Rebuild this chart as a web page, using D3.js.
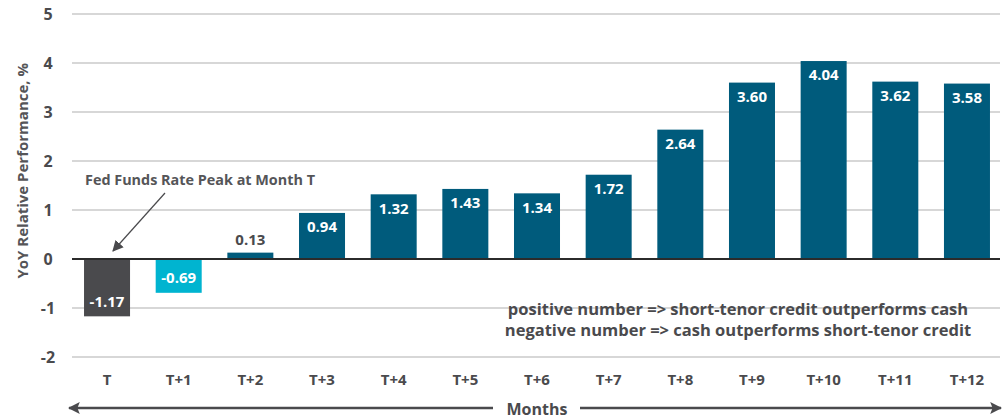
<!DOCTYPE html>
<html>
<head>
<meta charset="utf-8">
<script src="https://cdn.jsdelivr.net/npm/d3@7"></script>
<style>
  body { margin: 0; background: #fff; }
  svg text { font-family: "Open Sans", Roboto, sans-serif; font-weight: bold; }
</style>
</head>
<body>
<div id="chart"></div>
<script>
// chart data
var months = ["T", "T+1", "T+2", "T+3", "T+4", "T+5", "T+6", "T+7", "T+8", "T+9", "T+10", "T+11", "T+12"];
var values = [-1.17, -0.69, 0.13, 0.94, 1.32, 1.43, 1.34, 1.72, 2.64, 3.60, 4.04, 3.62, 3.58];
var yTicks = [-2, -1, 0, 1, 2, 3, 4, 5];
var noteLines = ["positive number => short-tenor credit outperforms cash",
                 "negative number => cash outperforms short-tenor credit"];
var annotation = "Fed Funds Rate Peak at Month T";

var width = 1006, height = 419;

var svg = d3.select("#chart")
  .append("svg")
    .attr("width", width)
    .attr("height", height);

var x = d3.scaleBand()
  .domain(months)
  .range([71.2, 1002.8])
  .paddingInner(0.358)
  .paddingOuter(0.179);

var y = d3.scaleLinear()
  .domain([-2, 5])
  .range([357, 14]);

function barColor(d, i) {
  if (i === 0) return "#4a4a4d";
  if (i === 1) return "#00b4d0";
  return "#005b7c";
}

// gridlines
svg.append("g")
  .selectAll("line")
  .data(yTicks.filter(function(t) { return t !== 0; }))
  .enter()
  .append("line")
    .attr("x1", 72)
    .attr("x2", 1000)
    .attr("y1", function(d) { return y(d); })
    .attr("y2", function(d) { return y(d); })
    .attr("stroke", "#cacaca")
    .attr("stroke-width", 1.5);

// y tick labels
svg.append("g")
  .selectAll("text")
  .data(yTicks)
  .enter()
  .append("text")
    .attr("x", 48)
    .attr("y", function(d) { return y(d); })
    .attr("dy", "0.35em")
    .attr("text-anchor", "middle")
    .attr("fill", "#4a4a4d")
    .style("font-size", "16px")
    .text(function(d) { return d; });

// y axis title
svg.append("text")
  .attr("transform", "translate(23," + y(1.8) + ") rotate(-90)")
  .attr("text-anchor", "middle")
  .attr("dy", "0.35em")
  .attr("fill", "#555558")
  .style("font-size", "15px")
  .text("YoY Relative Performance, %");

// bars
svg.append("g")
  .selectAll("rect")
  .data(values)
  .enter()
  .append("rect")
    .attr("x", function(d, i) { return x(months[i]); })
    .attr("width", x.bandwidth())
    .attr("y", function(d) { return y(Math.max(0, d)); })
    .attr("height", function(d) { return Math.abs(y(d) - y(0)); })
    .attr("fill", barColor);

// zero line
svg.append("line")
  .attr("x1", 72)
  .attr("x2", 1000)
  .attr("y1", y(0))
  .attr("y2", y(0))
  .attr("stroke", "#2b2b2b")
  .attr("stroke-width", 2);

// value labels
svg.append("g")
  .selectAll("text")
  .data(values)
  .enter()
  .append("text")
    .attr("x", function(d, i) { return x(months[i]) + x.bandwidth() / 2; })
    .attr("y", function(d) {
      if (d < 0) return y(d) - 15;
      if (y(0) - y(d) < 30) return y(d) - 13;
      return y(d) + 14;
    })
    .attr("dy", "0.35em")
    .attr("text-anchor", "middle")
    .attr("fill", function(d) { return (d > 0 && y(0) - y(d) < 30) ? "#4a4a4d" : "#ffffff"; })
    .style("font-size", "15px")
    .text(function(d) { return d.toFixed(2); });

// x labels
svg.append("g")
  .selectAll("text")
  .data(months)
  .enter()
  .append("text")
    .attr("x", function(d) { return x(d) + x.bandwidth() / 2; })
    .attr("y", 380)
    .attr("dy", "0.35em")
    .attr("text-anchor", "middle")
    .attr("fill", "#4a4a4d")
    .style("font-size", "15px")
    .text(function(d) { return d; });

// months arrow
var defs = svg.append("defs");
defs.append("marker")
  .attr("id", "arrowHead")
  .attr("viewBox", "0 0 10 10")
  .attr("refX", 9)
  .attr("refY", 5)
  .attr("markerWidth", 12)
  .attr("markerHeight", 12)
  .attr("markerUnits", "userSpaceOnUse")
  .attr("orient", "auto")
  .append("path")
    .attr("d", "M0,0 L10,5 L0,10 L2,5 z")
    .attr("fill", "#4a4a4d");

var arrowY = 408;
svg.append("line")
  .attr("x1", 493).attr("x2", 69)
  .attr("y1", arrowY).attr("y2", arrowY)
  .attr("stroke", "#4a4a4d").attr("stroke-width", 2.5)
  .attr("marker-end", "url(#arrowHead)");
svg.append("line")
  .attr("x1", 580).attr("x2", 1001)
  .attr("y1", arrowY).attr("y2", arrowY)
  .attr("stroke", "#4a4a4d").attr("stroke-width", 2.5)
  .attr("marker-end", "url(#arrowHead)");
svg.append("text")
  .attr("x", 537)
  .attr("y", arrowY + 1)
  .attr("dy", "0.35em")
  .attr("text-anchor", "middle")
  .attr("fill", "#4a4a4d")
  .style("font-size", "16px")
  .text("Months");

// annotation
svg.append("text")
  .attr("x", 85)
  .attr("y", 180)
  .attr("dy", "0.35em")
  .attr("fill", "#555558")
  .style("font-size", "14.4px")
  .text(annotation);

defs.append("marker")
  .attr("id", "annoHead")
  .attr("viewBox", "0 0 10 10")
  .attr("refX", 9)
  .attr("refY", 5)
  .attr("markerWidth", 11)
  .attr("markerHeight", 11)
  .attr("markerUnits", "userSpaceOnUse")
  .attr("orient", "auto")
  .append("path")
    .attr("d", "M0,0 L10,5 L0,10 z")
    .attr("fill", "#4a4a4d");

svg.append("line")
  .attr("x1", 165).attr("y1", 193)
  .attr("x2", 113).attr("y2", 251)
  .attr("stroke", "#4a4a4d").attr("stroke-width", 1.2)
  .attr("marker-end", "url(#annoHead)");

// explanatory note
svg.append("g")
  .selectAll("text")
  .data(noteLines)
  .enter()
  .append("text")
    .attr("x", 738)
    .attr("y", function(d, i) { return 309 + i * 21; })
    .attr("dy", "0.35em")
    .attr("text-anchor", "middle")
    .attr("fill", "#4a4a4d")
    .style("font-size", "16.5px")
    .text(function(d) { return d; });
</script>
</body>
</html>
